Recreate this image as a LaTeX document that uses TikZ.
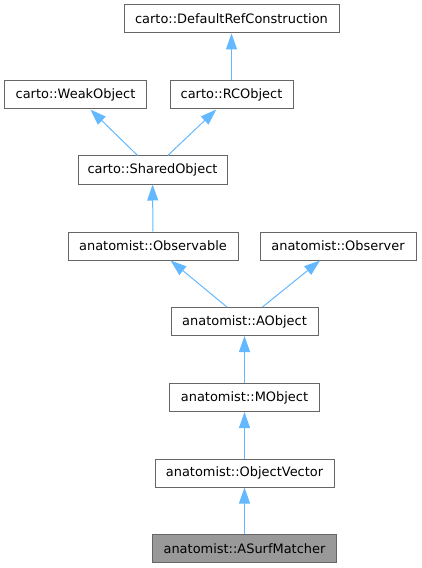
\documentclass[tikz,border=0pt]{standalone}
\usepackage{fontspec}
\setmainfont{DejaVu Sans}
\usepackage{tikz}
\usetikzlibrary{arrows.meta}
\usetikzlibrary{calc}
\definecolor{edgeblue}{HTML}{63B8FF}
\definecolor{boxgray}{HTML}{666666}
\definecolor{selgray}{HTML}{999999}
\begin{document}
\begin{tikzpicture}[x=1bp, y=-1bp, line width=1bp,
        node_style/.style={rectangle,draw=boxgray,fill=white,minimum height=28bp,inner sep=0pt,font=\fontsize{13}{15}\selectfont},
        selected_node_style/.style={node_style,fill=selgray},
        edge_style/.style={color=edgeblue, line width=1bp,-{Triangle[length=16bp,width=11bp,fill=edgeblue]}}]

        \useasboundingbox (0,0) rectangle (421,568);

        \node [node_style,minimum width=215bp](n1) at (231.5,19) {carto::DefaultRefConstruction};
        \node [node_style,minimum width=141bp](n2) at (75.5,95) {carto::WeakObject};
        \node [node_style,minimum width=123bp](n3) at (231.5,95) {carto::RCObject};
        \node [node_style,minimum width=149bp](n4) at (152.5,170) {carto::SharedObject};
        \node [node_style,minimum width=170bp](n5) at (153,246) {anatomist::Observable};
        \node [node_style,minimum width=156bp](n6) at (338,246) {anatomist::Observer};
        \node [node_style,minimum width=147bp](n7) at (244.5,321.5) {anatomist::AObject};
        \node [node_style,minimum width=150bp](n8) at (244.5,397.5) {anatomist::MObject};
        \node [node_style,minimum width=179bp](n9) at (244.5,473) {anatomist::ObjectVector};
        \node [selected_node_style,minimum width=184bp](n10) at (244.5,548.5) {anatomist::ASurfMatcher};
        \draw [edge_style] (n3) edge (n1);
        \draw [edge_style] (n4) edge (n2);
        \draw [edge_style] (n4) edge (n3);
        \draw [edge_style] (n5) edge (n4);
        \draw [edge_style] (n7) edge (n5);
        \draw [edge_style] (n7) edge (n6);
        \draw [edge_style] (n8) edge (n7);
        \draw [edge_style] (n9) edge (n8);
        \draw [edge_style] (n10) edge (n9);
        \end{tikzpicture}
\end{document}
